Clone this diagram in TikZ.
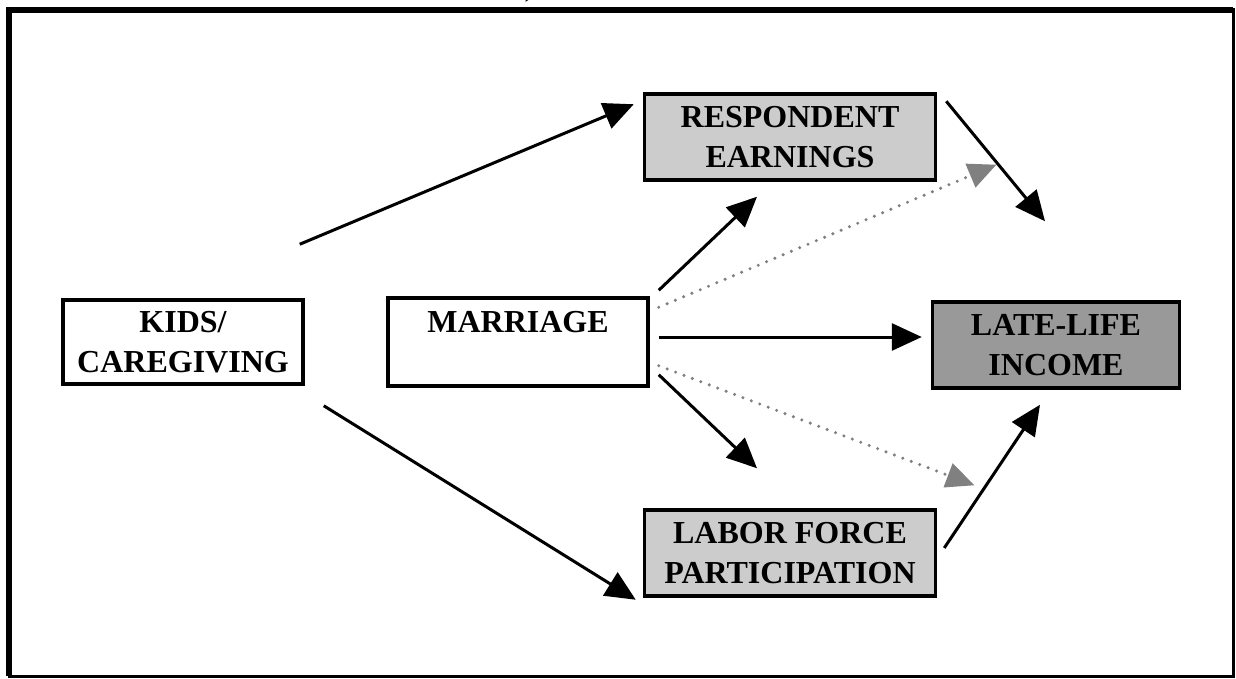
\documentclass[tikz,border=0pt]{standalone}
\usepackage{fontspec}
\setmainfont{Liberation Serif}
\usepackage{tikz}
\usetikzlibrary{arrows.meta, positioning}

\tikzset{
    box/.style={draw, line width=1.75pt, fill=white, align=center, inner sep=0pt,
        font=\fontsize{16}{20}\selectfont\bfseries},
    arr/.style={line width=1.5pt, -{Triangle[length=15pt, width=13.5pt]}},
    dotarr/.style={line width=1.7pt, draw=black!50, dash pattern=on 0pt off 4.5pt, line cap=round,
        -{Triangle[length=14pt, width=13pt, fill=black!50, line width=0pt]}}
}

\begin{document}
\begin{tikzpicture}[x=0.5pt, y=-0.5pt]
                                \useasboundingbox (0,0) rectangle (1236,679);
                                \clip (0,0) rectangle (1236,679);
                                \node (paren) at (530,-12) {\fontsize{16}{20}\selectfont )};
                                \draw[line width=1.5pt] (9,10) rectangle (1233,676);
                                \draw[line width=3pt] (9,676) -- (9,10) -- (1233,10);
                                \node[box, minimum width=120pt, minimum height=42pt] (kids) at (183,342) {KIDS/\\CAREGIVING};
                                \node[box, minimum width=130pt, minimum height=44pt] (marriage) at (518,342) {MARRIAGE\\\mbox{}};
                                \node[box, fill=black!20, minimum width=145.5pt, minimum height=43pt] (resp) at (790,137) {RESPONDENT\\EARNINGS};
                                \node[box, fill=black!40, minimum width=123.5pt, minimum height=43pt] (late) at (1056,345) {LATE-LIFE\\INCOME};
                                \node[box, fill=black!20, minimum width=145.5pt, minimum height=43pt] (labor) at (790,553) {LABOR FORCE\\PARTICIPATION};
                                \draw[arr] ([shift={(-5,-54)}]kids.north east) -- ([shift={(-9,12)}]resp.north west);
                                \draw[arr] ([shift={(19,20)}]kids.south east) -- ([shift={(-7,2)}]labor.south west);
                                \draw[arr] ([shift={(9,-6)}]marriage.north east) -- ([shift={(-33,15)}]resp.south);
                                \draw[dotarr] ([shift={(9,11)}]marriage.north east) -- ([shift={(59,-17)}]resp.south east);
                                \draw[arr] ([shift={(9,-5)}]marriage.east) -- ([shift={(-9,-8)}]late.west);
                                \draw[dotarr] ([shift={(9,-22)}]marriage.south east) -- ([shift={(37,-23)}]labor.north east);
                                \draw[arr] ([shift={(9,-13)}]marriage.south east) -- ([shift={(-33,-40)}]labor.north);
                                \draw[arr] ([shift={(9,9)}]resp.north east) -- ([shift={(-11,-79)}]late.north);
                                \draw[arr] ([shift={(7,-5)}]labor.east) -- ([shift={(-16,15)}]late.south);
                            \end{tikzpicture}
\end{document}
